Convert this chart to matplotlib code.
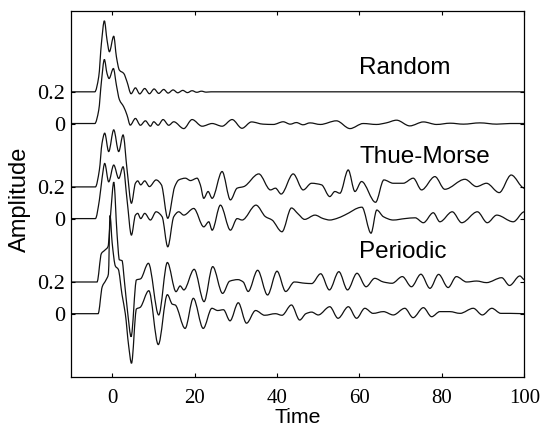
import numpy as np
import matplotlib
matplotlib.use("Agg")
import matplotlib.pyplot as plt
from matplotlib.path import Path
from matplotlib.patches import PathPatch

# -----------------------
# Data (time, amplitude relative to each trace's baseline)
# -----------------------
t_random_hi = [-10, -4.2, -3.25, -2.6, -1.88, -1.23, -0.66, 0.39, 1.04, 1.76, 2.82, 3.62,
               4.6, 5.65, 6.7, 7.91, 9.05, 10.18, 11.31, 12.52, 13.58, 14.79, 15.92, 17.14,
               18.27, 19.4, 20.53, 21.67, 22.8, 24.0, 100]
a_random_hi = [0, 0, 0.095, 0.305, 0.448, 0.326, 0.253, 0.351, 0.221, 0.137, 0.116, 0.063,
               -0.012, 0.025, -0.013, 0.021, -0.012, 0.018, -0.010, 0.015, -0.008, 0.012, -0.006, 0.009,
               -0.005, 0.007, -0.003, 0.004, -0.002, 0, 0]

t_random_lo = [-10, -4.2, -3.25, -2.6, -1.88, -1.23, -0.74, 0.31, 1.04, 1.76, 2.82, 3.62, 4.4,
               5.65, 6.86, 8.07, 9.29, 10.1, 11.15, 12.36, 13.74, 14.95, 17.38, 19.4, 21.83,
               24.26, 26.68, 29.11, 31.5, 33.8, 36.6, 39.1, 41.5, 43.2, 44.7, 46.3, 48.0, 50.5,
               54.4, 57.7, 60.9, 64.1, 66.5, 69.0, 72.2, 75.5, 78.7, 82.0, 85.2, 89.2, 93.3, 96.5, 100]
a_random_lo = [0, 0, 0.084, 0.263, 0.404, 0.315, 0.284, 0.347, 0.242, 0.151, 0.105, 0.053, -0.01,
               0.032, -0.011, 0.017, -0.017, 0.011, -0.011, 0.025, -0.011, 0.011, -0.032, 0.025, -0.017,
               0.0, -0.017, 0.025, -0.03, 0.01, -0.004, -0.006, 0.011, -0.004, 0.006, -0.008, 0.004, -0.006,
               0.017, -0.032, 0.0, -0.006, 0.004, 0.021, -0.015, 0.01, -0.006, 0.002, -0.004, 0.004, -0.004, 0.0, 0.0]

t_thue_hi = [-10, -4.06, -3.09, -2.45, -1.8, -0.83, 0.39, 1.6, 2.66, 3.63, 4.68, 5.65, 6.2,
             6.94, 7.91, 9.05, 10.67, 11.96, 13.5, 15.19, 16.17, 17.78, 19.0, 20.62, 21.4, 22.23,
             23.28, 24.26, 26.68, 28.7, 30.32, 31.94, 35.58, 38.41, 39.62, 41.0, 43.92, 46.34,
             48.37, 50.8, 52.8, 54.03, 55.25, 57.27, 58.9, 60.5, 63.9, 65.92, 68.19, 70.6, 73.04,
             75.06, 78.3, 80.7, 85.58, 88.4, 90.8, 93.9, 96.8, 100]
a_thue_hi = [0, 0, 0.107, 0.275, 0.339, 0.223, 0.36, 0.223, 0.328, 0.107, -0.103, 0.023, 0.038,
             0.013, 0.038, 0.002, 0.044, 0.013, -0.198, 0.002, 0.044, 0.055, 0.04, 0.055, 0.013, -0.072,
             -0.029, -0.072, 0.097, -0.082, -0.008, 0.002, 0.082, -0.019, -0.008, -0.045, 0.082, -0.019,
             0.023, 0.013, -0.061, -0.029, -0.04, 0.107, -0.029, 0.034, -0.097, 0.044, 0.023, 0.023, 0.055,
             -0.019, 0.065, -0.015, 0.048, 0.002, 0.023, -0.036, 0.075, -0.008]

t_thue_lo = [-10, -4.06, -3.09, -2.45, -1.8, -0.83, 0.39, 1.6, 2.66, 3.63, 4.68, 5.65, 6.2,
             6.94, 7.91, 9.29, 10.67, 12.12, 13.5, 14.95, 16.17, 17.38, 19.8, 22.23, 23.45, 24.26,
             26.27, 28.7, 30.32, 31.53, 34.9, 37.2, 38.8, 41.2, 43.5, 45.1, 46.7, 49.2, 51.2, 52.8,
             54.4, 56.4, 60.6, 62.8, 64.2, 65.8, 68.2, 71.0, 73.5, 75.5, 77.9, 79.5, 82.5, 84.8,
             88.6, 91.0, 93.3, 97.3, 100]
a_thue_lo = [0, 0, 0.117, 0.253, 0.348, 0.232, 0.338, 0.253, 0.327, 0.116, -0.104, 0.022, 0.033,
             0.0, 0.033, -0.009, 0.043, 0.012, -0.178, 0.012, 0.043, 0.022, 0.064, -0.052, -0.02, -0.073,
             0.085, -0.073, 0.0, -0.009, 0.085, 0.012, -0.009, -0.083, 0.067, 0.03, -0.005, 0.022, 0.0, -0.009,
             0.0, 0.022, 0.072, -0.092, 0.054, 0.012, -0.009, 0.0, 0.005, -0.026, 0.037, -0.02, 0.043, -0.026,
             0.043, -0.026, 0.022, -0.02, 0.043]

t_periodic_hi = [-10, -3.66, -2.6, -1.8, -1.0, -0.3, 0.4, 1.2, 1.76, 2.4, 3.0, 3.8, 4.6, 5.9, 6.9,
                 8.8, 11.3, 13.4, 15.5, 16.5, 17.4, 19.9, 22.3, 24.4, 26.8, 28.5, 30.5, 31.8, 33.0,
                 35.3, 37.7, 40.0, 42.1, 44.2, 46.8, 48.4, 50.6, 52.7, 55.0, 57.1, 59.4, 61.6, 63.7,
                 65.8, 67.9, 70.4, 72.6, 74.9, 77.1, 79.2, 81.5, 83.5, 86.0, 88.4, 90.8, 94.5, 96.4,
                 98.9, 100]
a_periodic_hi = [0, 0, 0.18, 0.2, 0.223, 0.45, 0.63, 0.3, 0.14, 0.135, 0.0, -0.2, -0.345, 0.013, 0.02,
                 0.118, -0.208, 0.123, -0.061, -0.025, -0.05, 0.08, -0.124, 0.097, -0.072, 0.005, 0.015, 0.0, -0.06,
                 0.074, -0.082, 0.068, -0.06, 0.0, -0.008, -0.01, 0.052, -0.05, 0.065, -0.05, 0.055, -0.03, 0.023,
                 0.0, -0.008, 0.034, -0.03, 0.049, -0.04, 0.048, -0.035, 0.034, 0.0, 0.006, -0.004, 0.027, -0.022,
                 0.038, 0.015]

t_periodic_lo = [-10, -3.4, -2.4, -1.5, -0.9, -0.5, 0.0, 0.8, 1.5, 2.4, 3.2, 4.0, 4.7, 5.9, 6.8,
                 8.9, 11.2, 13.4, 14.6, 15.3, 17.7, 19.7, 22.1, 24.2, 25.6, 27.0, 28.6, 30.6, 32.6,
                 34.8, 37.0, 39.6, 41.2, 43.5, 45.5, 47.0, 48.4, 50.0, 52.8, 54.8, 57.3, 59.3, 61.3,
                 63.3, 65.8, 68.2, 71.0, 73.0, 75.5, 77.5, 79.5, 81.9, 84.4, 87.6, 89.8, 92.1, 94.3,
                 96.5, 100]
a_periodic_lo = [0, 0, 0.17, 0.212, 0.25, 0.62, 0.45, 0.3, 0.28, 0.12, 0.0, -0.2, -0.313, 0.03, 0.04,
                 0.145, -0.195, 0.12, 0.06, 0.055, -0.093, 0.097, -0.093, 0.034, 0.02, 0.025, -0.045, 0.069, -0.06,
                 0.02, -0.01, 0.0, -0.01, 0.055, -0.04, 0.0, 0.01, -0.008, 0.044, -0.029, 0.044, -0.029, 0.034,
                 0.002, 0.013, -0.008, 0.034, -0.025, 0.038, -0.019, 0.013, 0.013, 0.002, 0.034, -0.008, 0.034, 0.002,
                 0.002, 0.0]

group_names = ["Random", "Thue-Morse", "Periodic"]
ytick_labels = ["0", "0.2", "0", "0.2", "0", "0.2"]
xtick_values = [0, 20, 40, 60, 80, 100]


def smooth_trace(t, y):
    """Bezier path through the read points (monotone tangents, flat at extrema)."""
    t = np.asarray(t, float)
    y = np.asarray(y, float)
    h = np.diff(t)
    d = np.diff(y) / h
    m = np.zeros_like(y)
    for i in range(1, len(y) - 1):
        if d[i - 1] * d[i] > 0:
            w1 = 2 * h[i] + h[i - 1]
            w2 = h[i] + 2 * h[i - 1]
            m[i] = (w1 + w2) / (w1 / d[i - 1] + w2 / d[i])
    verts = [(t[0], y[0])]
    codes = [Path.MOVETO]
    for i in range(len(y) - 1):
        verts += [(t[i] + h[i] / 3, y[i] + m[i] * h[i] / 3),
                  (t[i + 1] - h[i] / 3, y[i + 1] - m[i + 1] * h[i] / 3),
                  (t[i + 1], y[i + 1])]
        codes += [Path.CURVE4] * 3
    return Path(verts, codes)


# -----------------------
# Figure
# -----------------------
fig = plt.figure(figsize=(5.42, 4.28), dpi=100)
ax = fig.add_axes([0.1308, 0.1201, 0.8367, 0.8542])

# trace pairs and their vertical offsets (upper trace = lower + 0.2)
traces = [
    (t_random_lo, a_random_lo, 1.2), (t_random_hi, a_random_hi, 1.4),
    (t_thue_lo, a_thue_lo, 0.6), (t_thue_hi, a_thue_hi, 0.8),
    (t_periodic_lo, a_periodic_lo, 0.0), (t_periodic_hi, a_periodic_hi, 0.2),
]
for t, a, off in traces:
    path = smooth_trace(t, np.array(a) + off)
    ax.add_patch(PathPatch(path, facecolor="none", edgecolor="#111111", lw=0.9))

# group names
name_y = [1.55, 0.99, 0.39]
for name, y in zip(group_names, name_y):
    ax.text(60, y, name, fontsize=17.5, family="Liberation Sans", ha="left", va="center")

ax.set_xlim(-10, 100)
ax.set_ylim(-0.397, 1.91)

ax.set_xticks(xtick_values)
ax.set_xticklabels([str(v) for v in xtick_values], family="Liberation Serif", fontsize=15)
ax.set_yticks([0, 0.2, 0.6, 0.8, 1.2, 1.4])
ax.set_yticklabels(ytick_labels, family="Liberation Serif", fontsize=16)
ax.tick_params(axis="x", direction="in", length=3, width=0.8, top=True, pad=9)
ax.tick_params(axis="y", direction="in", length=3, width=0.8, right=True, pad=4)

ax.set_xlabel("Time", family="Liberation Sans", fontsize=15.3)
ax.set_ylabel("Amplitude", family="Liberation Sans", fontsize=17)
ax.xaxis.set_label_coords(0.5, -0.0856)
ax.yaxis.set_label_coords(-0.088, 0.486)

for s in ax.spines.values():
    s.set_linewidth(0.9)

fig.savefig("out.png", dpi=100)
